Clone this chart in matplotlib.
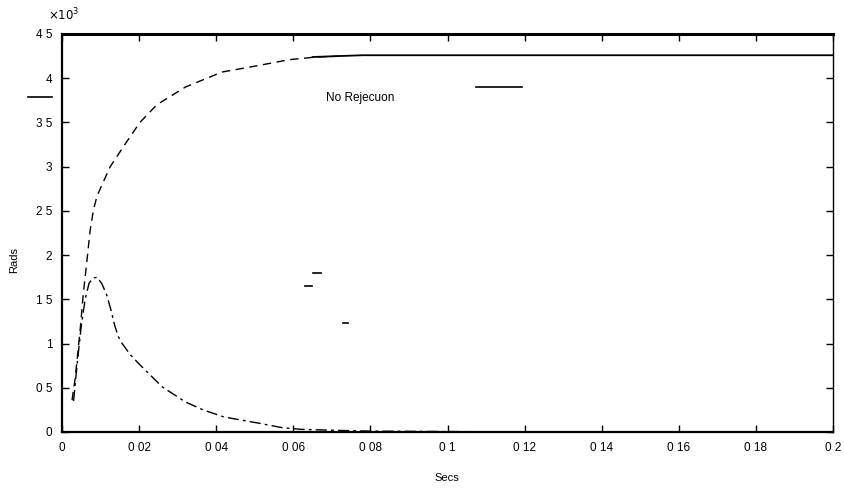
import matplotlib
matplotlib.use("Agg")
import matplotlib.pyplot as plt

plt.rcParams['font.family'] = ['Liberation Sans', 'DejaVu Sans']

# Data (x in seconds, y in rads x10^3)
rise_x = [0.0026, 0.0034, 0.0047, 0.0055, 0.0065, 0.0073, 0.0082, 0.0091, 0.0125, 0.0166,
          0.0202, 0.0246, 0.032, 0.0415, 0.0505, 0.059, 0.066, 0.072]
rise_y = [0.36, 0.60, 1.15, 1.55, 1.95, 2.28, 2.52, 2.67, 3.0, 3.27,
          3.5, 3.7, 3.9, 4.07, 4.14, 4.21, 4.24, 4.25]

steady_x = [0.065, 0.078, 0.1, 0.2]
steady_y = [4.24, 4.26, 4.26, 4.26]

decay_x = [0.0030, 0.0040, 0.0050, 0.0060, 0.0070, 0.0080, 0.0091, 0.0103, 0.0116, 0.0127,
           0.0137, 0.0146, 0.0156, 0.0178, 0.0202, 0.026, 0.032, 0.0366, 0.042, 0.051,
           0.057, 0.062, 0.070, 0.080, 0.120, 0.200]
decay_y = [0.35, 0.80, 1.20, 1.50, 1.68, 1.74, 1.75, 1.68, 1.55, 1.38,
           1.20, 1.08, 1.00, 0.87, 0.76, 0.51, 0.34, 0.25, 0.17, 0.10,
           0.05, 0.03, 0.02, 0.01, 0.0, 0.0]

# stray short marks seen in the scan (x0, x1, y)
marks_x0 = [-0.0088, 0.1074, 0.0630, 0.0651, 0.0729]
marks_x1 = [-0.0026, 0.1193, 0.0648, 0.0672, 0.0742]
marks_y = [3.79, 3.90, 1.65, 1.80, 1.23]

xticks = [0, 0.02, 0.04, 0.06, 0.08, 0.10, 0.12, 0.14, 0.16, 0.18, 0.20]
xticklabels = ["0", "0 02", "0 04", "0 06", "0 08", "0 1", "0 12", "0 14", "0 16", "0 18", "0 2"]
yticks = [0, 0.5, 1, 1.5, 2, 2.5, 3, 3.5, 4, 4.5]
yticklabels = ["0", "0 5", "1", "1 5", "2", "2 5", "3", "3 5", "4", "4 5"]

fig = plt.figure(figsize=(8.44, 4.88), dpi=100)
ax = fig.add_axes([62/844, 1-432/488, (833-62)/844, (432-34)/488])

ax.plot(rise_x, rise_y, color='black', lw=1.0, linestyle=(0, (6, 4)))
ax.plot(steady_x, steady_y, color='black', lw=1.3)
ax.plot(decay_x, decay_y, color='black', lw=1.0, linestyle=(0, (8, 3, 2, 3)))

for x0, x1, y in zip(marks_x0, marks_x1, marks_y):
    ax.plot([x0, x1], [y, y], color='black', lw=1.2, clip_on=False)

ax.text(0.0685, 3.78, "No Rejecuon", fontsize=8.5, va='center', ha='left')

ax.set_xlim(0, 0.2)
ax.set_ylim(0, 4.5)
ax.set_xticks(xticks)
ax.set_xticklabels(xticklabels)
ax.set_yticks(yticks)
ax.set_yticklabels(yticklabels)
ax.tick_params(direction='in', top=True, right=True, length=5, width=1, labelsize=8.5)
ax.tick_params(axis='x', pad=7)
ax.tick_params(axis='y', pad=7)
for s in ax.spines.values():
    s.set_linewidth(1.0)
ax.spines['top'].set_linewidth(2.2)
ax.spines['left'].set_linewidth(1.6)
ax.spines['bottom'].set_linewidth(1.6)

ax.set_xlabel("Secs", fontsize=8)
ax.set_ylabel("Rads", fontsize=8)
ax.xaxis.set_label_coords((447 - 62) / 771, (432 - 478) / 398)
ax.yaxis.set_label_coords((14 - 62) / 771, (432 - 260) / 398)
ax.xaxis.label.set_va('center')
ax.yaxis.label.set_va('center')
fig.text(48/844, 1-15/488, r"$\times10^{3}$", fontsize=8.5, va='center', ha='left')

fig.savefig("out.png", dpi=100)
